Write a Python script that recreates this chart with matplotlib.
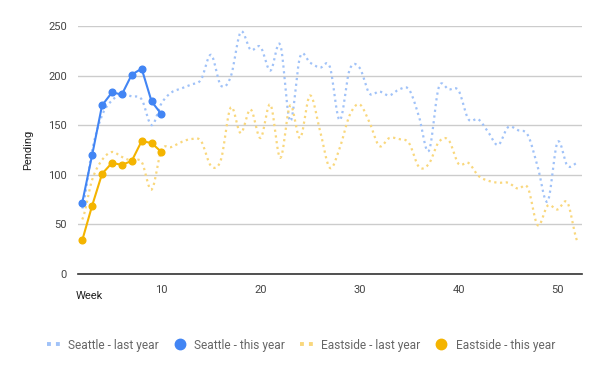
import numpy as np
import matplotlib
matplotlib.use("Agg")
import matplotlib.pyplot as plt
from matplotlib.lines import Line2D

plt.rcParams['font.family'] = ['Roboto', 'DejaVu Sans']

# Data
weeks_last = list(range(2, 53))
weeks_this = list(range(2, 11))

seattle_last = [66, 125, 160, 175, 181, 179, 176, 150, 172, 183,
                187, 191, 196, 221, 190, 199, 244, 226, 229, 205,
                231, 154, 219, 213, 208, 209, 155, 206, 208, 182,
                184, 180, 186, 186, 159, 124, 188, 186, 185, 156,
                156, 143, 130, 148, 145, 140, 108, 73, 133, 109, 112]
eastside_last = [55, 95, 115, 123, 118, 114, 113, 85, 125, 128,
                 133, 136, 134, 109, 115, 168, 142, 166, 137, 171,
                 117, 170, 137, 180, 145, 107, 127, 160, 171, 153,
                 129, 137, 136, 132, 108, 111, 133, 135, 111, 112,
                 99, 94, 92, 92, 86, 87, 49, 69, 65, 72, 33]
seattle_this = [72, 120, 170, 183, 181, 201, 207, 174, 161]
eastside_this = [34, 69, 101, 112, 110, 114, 134, 132, 123]

blue = "#4285f4"
orange = "#f4b400"
blue_light = "#a0c2f8"
orange_light = "#f9d77c"


def smooth(x, y, n=10):
    # Catmull-Rom curve through the points, like the "function" curve type
    x = np.asarray(x, float)
    y = np.asarray(y, float)
    xs, ys = [], []
    t = np.linspace(0, 1, n, endpoint=False)
    for i in range(len(y) - 1):
        p0 = y[i - 1] if i > 0 else y[i]
        p1, p2 = y[i], y[i + 1]
        p3 = y[i + 2] if i + 2 < len(y) else y[i + 1]
        seg = 0.5 * (2 * p1 + (-p0 + p2) * t
                     + (2 * p0 - 5 * p1 + 4 * p2 - p3) * t ** 2
                     + (-p0 + 3 * p1 - 3 * p2 + p3) * t ** 3)
        xs.extend(x[i] + (x[i + 1] - x[i]) * t)
        ys.extend(seg)
    xs.append(x[-1])
    ys.append(y[-1])
    return xs, ys


fig = plt.figure(figsize=(6, 3.71), dpi=100)
ax = fig.add_axes([78 / 600, 1 - 274 / 371, 504 / 600, 248 / 371])

dots = (0, (1, 1.6))
sx, sy = smooth(weeks_last, seattle_last)
ax.plot(sx, sy, color=blue_light, lw=1.6, linestyle=dots,
        dash_capstyle="butt", zorder=2)
ex, ey = smooth(weeks_last, eastside_last)
ax.plot(ex, ey, color=orange_light, lw=1.6, linestyle=dots,
        dash_capstyle="butt", zorder=2)

ax.plot(weeks_this, seattle_this, color=blue, lw=1.5, marker="o",
        markersize=4.8, zorder=4)
ax.plot(weeks_this, eastside_this, color=orange, lw=1.5, marker="o",
        markersize=4.8, zorder=4)

ax.set_xlim(1.57, 52.47)
ax.set_ylim(0, 250)
ax.set_yticks([0, 50, 100, 150, 200, 250])
ax.set_xticks([10, 20, 30, 40, 50])
ax.grid(axis="y", color="#cccccc", lw=1)
ax.set_axisbelow(True)
for s in ["top", "right", "left"]:
    ax.spines[s].set_visible(False)
ax.spines["bottom"].set_color("#333333")
ax.spines["bottom"].set_linewidth(1.2)
ax.tick_params(length=0, labelsize=8, labelcolor="#444444")
ax.tick_params(axis="y", pad=8)
ax.tick_params(axis="x", pad=8)

fig.text(28 / 600, 1 - 150 / 371, "Pending", rotation=90, ha="center",
         va="center", fontsize=8, color="#222222")
fig.text(76 / 600, 1 - 296 / 371, "Week", ha="left", va="center",
         fontsize=8, color="#222222")

handles = [
    Line2D([], [], color=blue_light, lw=2.8, linestyle=(0, (1, 1.3)),
           dash_capstyle="butt"),
    Line2D([], [], color=blue, marker="o", linestyle="none", markersize=7.5),
    Line2D([], [], color=orange_light, lw=2.8, linestyle=(0, (1, 1.3)),
           dash_capstyle="butt"),
    Line2D([], [], color=orange, marker="o", linestyle="none", markersize=7.5),
]
labels = ["Seattle - last year", "Seattle - this year",
          "Eastside - last year", "Eastside - this year"]
fig.legend(handles, labels, loc="center", bbox_to_anchor=(301 / 600, 1 - 345 / 371),
           ncol=4, frameon=False, fontsize=8.6, labelcolor="#666666",
           handlelength=1.1, handletextpad=0.67, columnspacing=1.2)

fig.savefig("out.png", dpi=100)
